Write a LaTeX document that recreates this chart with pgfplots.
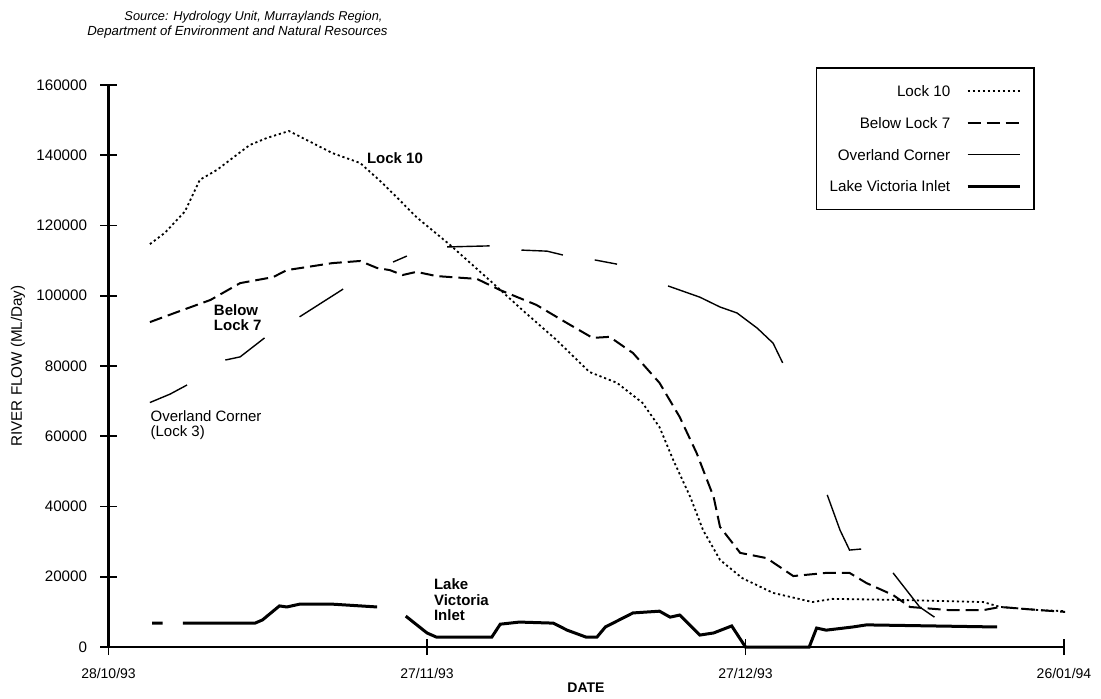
\documentclass[border=0pt]{standalone}
\usepackage{fontspec}
\setmainfont{Liberation Sans}
\usepackage{pgfplots}
\pgfplotsset{compat=1.18}
\begin{document}
\begin{tikzpicture}
\useasboundingbox (0,0) rectangle (550.5pt,349pt);
\begin{axis}[
  at={(54.25pt,25.5pt)}, anchor=south west,
  scale only axis, width=477.75pt, height=281pt,
  xmin=0, xmax=90, ymin=0, ymax=160000,
  axis x line=bottom, axis y line=left,
  axis line style={line width=1pt,-},
  xtick={0,30,60,90},
  xticklabels={28/10/93,27/11/93,27/12/93,26/01/94},
  ytick={0,20000,40000,60000,80000,100000,120000,140000,160000},
  scaled y ticks=false,
  /pgf/number format/.cd, fixed, 1000 sep={}, assume math mode=true, /pgfplots/.cd,
  tick align=center, major tick length=8pt,
  tick style={line width=0.8pt,black},
  yticklabel style={font=\fontsize{7.6}{9}\selectfont, anchor=east, inner sep=0pt, xshift=-6.5pt},
  xticklabel style={font=\fontsize{7}{8}\selectfont, anchor=north, inner sep=0pt, yshift=-6.5pt},
  clip=false,
  unbounded coords=jump,
  legend plot pos=right,
  legend image code/.code={\draw[#1] (0pt,0pt) -- (26pt,0pt);},
  legend style={at={(0.9697,1.032)}, anchor=north east, draw=black, line width=0.8pt,
    font=\fontsize{7.6}{9}\selectfont, inner xsep=6.5pt, inner ysep=8pt,
    row sep=8.3pt, column sep=8pt,
    nodes={inner sep=0pt, text height=6.5pt, text depth=1pt},
    cells={anchor=east}},
]
% Lock 10
\addplot[black, line width=0.9pt, dash pattern=on 1.1pt off 1.4pt] coordinates {
(3.9,114700) (5.3,117900) (7.2,124000) (8.6,133000) (10.2,135800) (13.3,142900)
(14.9,144900) (17.0,146900) (21.1,140600) (23.7,137800) (25.8,132100) (27.4,127300)
(29.0,122400) (32.2,114400) (36.2,103600) (39.0,95900) (42.2,87400) (45.3,78300)
(47.9,75200) (50.3,69500) (51.9,62600) (53.2,53200) (54.8,42700) (56.0,33300)
(57.6,24800) (59.7,19600) (62.6,15400) (66.3,12800) (68.2,13700) (74.5,13400)
(82.4,12800) (84.0,11400) (87.7,10500) (90.1,10200)};
\addlegendentry{Lock 10}
% Below Lock 7
\addplot[black, line width=1pt, dash pattern=on 6.5pt off 3pt] coordinates {
(3.9,92500) (6.5,95400) (9.6,98800) (12.4,103600) (15.5,105300) (16.8,107300)
(21.1,109300) (23.7,109900) (25.3,107900) (26.5,107300) (27.7,105900) (29.0,106800)
(30.9,105600) (34.7,104800) (36.9,101600) (40.3,97400) (43.2,92200) (45.6,88000)
(47.2,88300) (49.4,83700) (51.9,75200) (53.8,65500) (55.4,55200) (57.0,42700)
(57.6,34200) (59.5,26800) (62.0,25300) (64.5,20200) (67.6,21100) (69.8,21100)
(71.4,18200) (73.9,14800) (75.5,11400) (79.2,10500) (82.4,10500) (84.0,11400)
(87.7,10500) (90.1,10000)};
\addlegendentry{Below Lock 7}
% Overland Corner
\addplot[black, line width=0.7pt] coordinates {
(3.9,69600) (5.8,72000) (7.4,74600) (8,nan)
(11.0,81700) (12.4,82600) (14.7,88000) (16,nan)
(18.0,94000) (22.1,101900) (24,nan)
(26.8,109600) (28.1,111300) (30,nan)
(31.9,113900) (35.9,114200) (37,nan)
(38.9,113000) (41.3,112700) (42.8,111600) (44,nan)
(45.8,110200) (47.9,109000) (50,nan)
(52.7,102800) (55.7,99600) (57.6,96800) (59.2,95100) (61.1,90800) (62.6,86500) (63.5,80900) (65,nan)
(67.7,43300) (68.9,33300) (69.8,27600) (70.9,27900) (72,nan)
(73.9,21100) (76.4,11400) (77.8,8500)};
\addlegendentry{Overland Corner}
% Lake Victoria Inlet
\addplot[black, line width=1.5pt] coordinates {
(4.1,6800) (5.1,6800) (6,nan)
(7.0,6800) (13.8,6800) (14.5,7700) (16.1,11700) (16.8,11400) (18.0,12200)
(21.1,12200) (25.3,11400) (26,nan)
(28.0,8800) (30.0,4000) (30.9,2800) (36.1,2800) (36.9,6500) (38.7,7100)
(41.9,6800) (43.2,4800) (45.0,2800) (46.0,2800) (46.8,5700) (49.4,9700)
(51.9,10200) (52.9,8500) (53.8,9100) (55.7,3400) (57.0,4000) (58.7,6000)
(60.0,0) (66.0,0) (66.7,5400) (67.6,4800) (70.1,5700) (71.4,6300)
(77.6,6000) (83.7,5700)};
\addlegendentry{Lake Victoria Inlet}
% annotations
\node[font=\fontsize{7.5}{7.5}\selectfont\bfseries] at (axis cs:26.98,139200) {Lock 10};
\node[font=\fontsize{7.5}{7.5}\selectfont\bfseries, anchor=west, align=left] at (axis cs:9.27,93700) {Below\\Lock 7};
\node[font=\fontsize{7.5}{7.5}\selectfont, anchor=west, align=left] at (axis cs:3.3,63300) {Overland Corner\\(Lock 3)};
\node[font=\fontsize{7.5}{7.75}\selectfont\bfseries, anchor=west, align=left] at (axis cs:30.0,13400) {Lake\\Victoria\\Inlet};
\end{axis}
\node[font=\fontsize{6.4}{7.5}\selectfont\itshape] at (126.75pt,340.5pt) {Source: Hydrology Unit, Murraylands Region,};
\node[font=\fontsize{6.6}{7.5}\selectfont\itshape] at (118.75pt,333pt) {Department of Environment and Natural Resources};
\node[rotate=90, font=\fontsize{7.6}{9}\selectfont] at (9pt,166pt) {RIVER FLOW (ML/Day)};
\node[font=\fontsize{7}{8}\selectfont\bfseries] at (293pt,5pt) {DATE};
\end{tikzpicture}
\end{document}
